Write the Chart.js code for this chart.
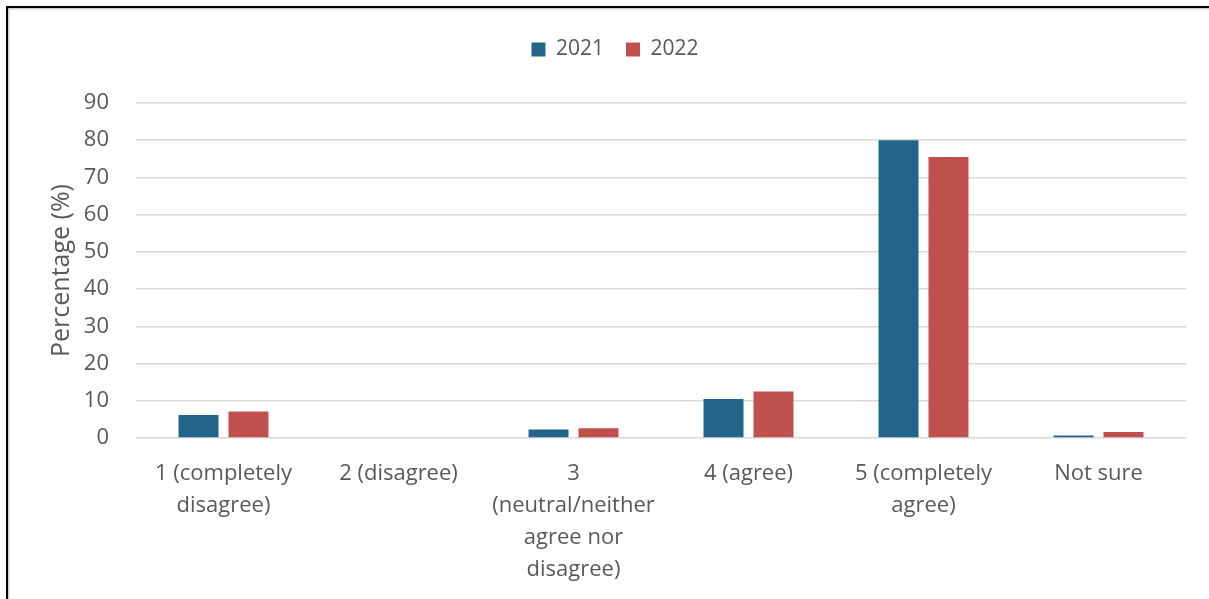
<!doctype html>
<html lang="en">

<head>
    <meta charset="UTF-8" />
    <title>Agreement chart</title>
    <script src="https://cdn.jsdelivr.net/npm/chart.js"></script>
    <style>
        html, body {
            margin: 0;
            padding: 0;
            background: #fff;
        }

        .wrap {
            position: relative;
            width: 1209px;
            height: 599px;
            overflow: hidden;
        }

        .frame {
            position: absolute;
            left: 6px;
            top: 6px;
            width: 1220px;
            height: 620px;
            border: 2px solid #000;
            box-shadow: inset 1px 1px 2px #bbb;
            pointer-events: none;
        }
    </style>
</head>

<body>
    <div class="wrap">
        <canvas id="myChart" width="1209" height="599"></canvas>
        <div class="frame"></div>
    </div>

    <script>
        const categories = [
            ["1 (completely", "disagree)"],
            ["2 (disagree)"],
            ["3", "(neutral/neither", "agree nor", "disagree)"],
            ["4 (agree)"],
            ["5 (completely", "agree)"],
            ["Not sure"]
        ];
        const values2021 = [6.2, 0, 2.3, 10.5, 80.0, 0.7];
        const values2022 = [7.1, 0, 2.6, 12.5, 75.5, 1.6];
        const yTicks = [0, 10, 20, 30, 40, 50, 60, 70, 80, 90];

        const grey = '#595959';
        const fontFam = '"Open Sans", "Noto Sans", sans-serif';

        const ctx = document.getElementById('myChart');

        // push the plot down under the legend
        const legendGap = {
            id: 'legendGap',
            beforeInit(chart) {
                const fit = chart.legend.fit;
                chart.legend.fit = function () {
                    fit.bind(chart.legend)();
                    this.height += 33;
                };
            }
        };

        new Chart(ctx, {
            type: 'bar',
            data: {
                labels: categories,
                datasets: [{
                    label: '2021',
                    data: values2021,
                    backgroundColor: '#22648a',
                    categoryPercentage: 0.571,
                    barPercentage: 0.8
                }, {
                    label: '2022',
                    data: values2022,
                    backgroundColor: '#c0504e',
                    categoryPercentage: 0.571,
                    barPercentage: 0.8
                }]
            },
            plugins: [legendGap],
            options: {
                responsive: false,
                animation: false,
                layout: {
                    padding: { left: 44, right: 23, top: 17, bottom: 0 }
                },
                plugins: {
                    legend: {
                        position: 'top',
                        labels: {
                            color: grey,
                            boxWidth: 14,
                            boxHeight: 14,
                            padding: 22,
                            font: { family: fontFam, size: 21 }
                        }
                    },
                    tooltip: { enabled: false }
                },
                scales: {
                    x: {
                        grid: { display: false },
                        border: { display: false },
                        ticks: {
                            color: grey,
                            maxRotation: 0,
                            autoSkip: false,
                            padding: 12,
                            font: { family: fontFam, size: 22, lineHeight: 1.45 }
                        },
                        afterFit: function (scale) {
                            scale.height = 599 - 438;
                        }
                    },
                    y: {
                        min: 0,
                        max: 90,
                        afterBuildTicks: function (scale) {
                            scale.ticks = yTicks.map(v => ({ value: v }));
                        },
                        grid: {
                            color: '#d9d9d9',
                            lineWidth: 1.5,
                            drawTicks: false
                        },
                        border: { display: false },
                        title: {
                            display: true,
                            text: 'Percentage (%)',
                            color: grey,
                            padding: { top: 3, bottom: 0 },
                            font: { family: fontFam, size: 25 }
                        },
                        ticks: {
                            color: grey,
                            padding: 27,
                            font: { family: fontFam, size: 22 }
                        },
                        afterFit: function (scale) {
                            scale.width = 92;
                        }
                    }
                }
            }
        });
    </script>
</body>

</html>
